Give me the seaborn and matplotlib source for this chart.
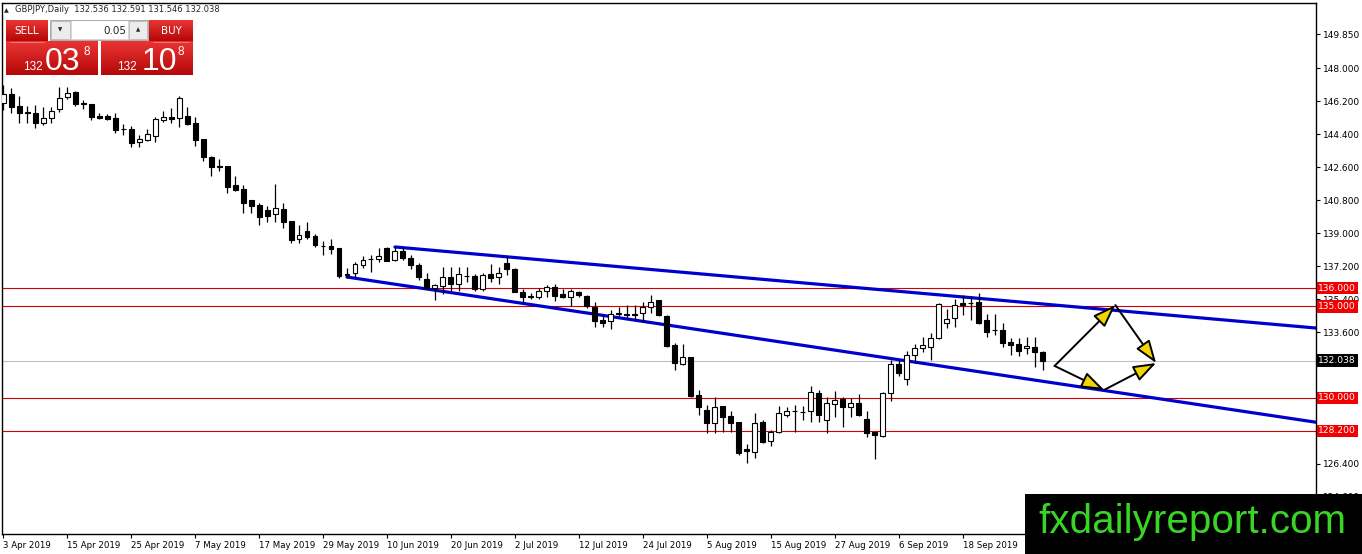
import matplotlib
matplotlib.use("Agg")
import matplotlib.pyplot as plt
import numpy as np
import pandas as pd
import seaborn as sns
from matplotlib.colors import LinearSegmentedColormap
from matplotlib.patches import Rectangle
from matplotlib import font_manager

# GBPJPY daily candles (bar 0 = 3 Apr 2019)
opens = [146.1, 146.6, 145.93, 145.6, 145.55, 145.0, 145.28, 145.77, 146.42, 146.7,
         146.1, 146.04, 145.38, 145.38, 145.28, 144.68, 144.68, 143.97, 144.08, 144.29,
         145.17, 145.33, 145.28, 145.38, 145.0, 144.13, 143.15, 142.63, 142.66, 141.62,
         141.4, 140.8, 140.53, 140.26, 140.04, 140.31, 139.66, 138.67, 139.11, 138.84,
         138.29, 138.29, 138.18, 136.71, 136.82, 137.26, 137.56, 137.58, 138.18, 137.53,
         138.02, 137.64, 137.26, 136.5, 136.0, 136.11, 136.6, 136.22, 136.66, 136.66,
         135.95, 136.77, 136.6, 137.37, 137.04, 135.78, 135.55, 135.51, 135.84, 136.06,
         135.67, 135.51, 135.78, 135.57, 134.96, 134.26, 134.2, 134.64, 134.58, 134.58,
         134.64, 134.96, 135.35, 134.47, 132.89, 131.85, 132.24, 130.16, 129.35, 128.64,
         129.56, 129.02, 128.69, 127.22, 127.05, 128.69, 127.66, 128.15, 129.07, 129.29,
         129.24, 129.29, 130.27, 128.8, 129.67, 129.95, 129.51, 129.73, 128.85, 128.15,
         127.93, 130.27, 131.85, 131.04, 132.35, 132.73, 132.78, 133.27, 134.09, 134.36,
         135.18, 135.18, 135.24, 134.26, 133.71, 133.71, 133.06, 132.95, 132.73, 132.78,
         132.536]
highs = [147.1, 146.9, 146.48, 145.93, 145.98, 145.87, 145.87, 146.97, 146.97, 146.75,
         146.26, 146.04, 145.55, 145.5, 145.55, 144.95, 144.84, 144.35, 144.68, 145.33,
         145.66, 145.82, 146.48, 145.87, 145.33, 144.13, 143.2, 143.04, 142.66, 142.11,
         141.62, 140.8, 140.64, 140.48, 141.67, 140.64, 139.66, 139.44, 139.6, 138.95,
         138.57, 138.68, 138.18, 137.09, 137.42, 137.75, 137.8, 138.18, 138.24, 138.24,
         138.24, 137.8, 137.37, 136.82, 136.22, 137.15, 137.15, 137.15, 137.15, 136.77,
         136.82, 137.31, 137.15, 137.75, 137.09, 135.95, 135.73, 136.0, 136.16, 136.22,
         135.95, 135.95, 135.84, 135.62, 135.24, 134.58, 134.8, 134.96, 135.07, 135.07,
         135.24, 135.62, 135.35, 134.53, 133.0, 132.95, 132.24, 130.44, 129.62, 130.05,
         129.56, 129.29, 128.69, 127.49, 129.18, 128.8, 128.25, 129.56, 129.51, 129.62,
         129.56, 130.65, 130.44, 130.05, 130.38, 130.05, 130.0, 130.22, 129.29, 128.15,
         130.33, 132.07, 132.07, 132.56, 132.95, 133.33, 133.55, 135.18, 134.86, 135.4,
         135.62, 135.57, 135.73, 134.58, 134.58, 134.09, 133.27, 133.27, 133.33, 133.33,
         132.591]
lows = [145.7, 145.55, 145.0, 145.0, 144.73, 144.9, 145.0, 145.6, 146.31, 145.93,
        145.77, 145.17, 145.22, 145.17, 144.46, 144.35, 143.69, 143.69, 144.02, 143.97,
        145.06, 145.0, 144.79, 144.9, 143.75, 142.93, 142.11, 142.38, 141.18, 141.3,
        140.09, 140.09, 139.44, 139.6, 139.6, 139.27, 138.46, 138.46, 138.67, 138.24,
        137.8, 137.86, 136.55, 136.55, 136.6, 137.09, 136.87, 137.42, 137.47, 137.47,
        137.53, 137.04, 136.44, 135.95, 135.35, 135.67, 135.84, 135.84, 136.33, 135.84,
        135.84, 136.33, 136.22, 136.71, 135.78, 135.18, 135.4, 135.4, 135.51, 135.29,
        135.45, 135.02, 135.51, 134.91, 133.87, 133.87, 133.76, 134.47, 134.36, 134.26,
        134.15, 134.64, 134.47, 132.78, 131.53, 131.8, 130.05, 129.07, 128.09, 128.09,
        128.15, 128.15, 126.89, 126.45, 126.73, 127.55, 127.38, 128.09, 128.96, 128.15,
        128.8, 128.69, 128.69, 128.09, 128.96, 128.42, 128.96, 129.02, 127.87, 126.67,
        127.87, 129.84, 131.2, 130.71, 131.91, 132.51, 132.07, 133.22, 133.82, 133.87,
        134.53, 134.26, 134.04, 133.33, 133.44, 132.78, 132.35, 132.29, 132.4, 131.69,
        131.546]
closes = [146.6, 145.9, 145.55, 145.55, 145.0, 145.28, 145.66, 146.37, 146.64, 146.04,
          146.04, 145.33, 145.28, 145.22, 144.62, 144.65, 143.91, 144.13, 144.4, 145.22,
          145.33, 145.22, 146.37, 144.95, 144.08, 143.15, 142.6, 142.6, 141.51, 141.35,
          140.64, 140.48, 139.87, 139.93, 140.37, 139.6, 138.62, 138.89, 138.78, 138.35,
          138.27, 138.13, 136.66, 136.77, 137.31, 137.53, 137.58, 137.75, 137.47, 138.02,
          137.64, 137.26, 136.6, 136.0, 136.16, 136.6, 136.22, 136.77, 136.68, 135.95,
          136.71, 136.55, 136.82, 137.04, 135.78, 135.51, 135.51, 135.84, 136.06, 135.57,
          135.51, 135.84, 135.62, 135.02, 134.2, 134.09, 134.58, 134.58, 134.53, 134.53,
          134.96, 135.24, 134.53, 132.84, 131.91, 132.24, 130.11, 129.51, 128.64, 129.51,
          128.96, 128.64, 127.0, 127.11, 128.64, 127.6, 128.15, 129.18, 129.29, 129.31,
          129.26, 130.33, 129.07, 129.73, 129.89, 129.51, 129.73, 129.07, 128.09, 127.98,
          130.27, 131.85, 131.36, 132.35, 132.73, 132.89, 133.27, 135.13, 134.31, 135.07,
          135.07, 135.2, 134.09, 133.6, 133.69, 133.0, 132.89, 132.56, 132.84, 132.51,
          132.038]

tick_labels = ["3 Apr 2019", "15 Apr 2019", "25 Apr 2019", "7 May 2019", "17 May 2019",
               "29 May 2019", "10 Jun 2019", "20 Jun 2019", "2 Jul 2019", "12 Jul 2019",
               "24 Jul 2019", "5 Aug 2019", "15 Aug 2019", "27 Aug 2019", "6 Sep 2019",
               "18 Sep 2019"]
price_ticks = [149.85, 148.0, 146.2, 144.4, 142.6, 140.8, 139.0, 137.2, 135.4, 133.6,
               131.8, 130.0, 128.2, 126.4, 124.6]
levels = [136.0, 135.0, 130.0, 128.2]
bid = 132.038

# trend channel anchors (bar index, price)
upper_chan = [(49, 138.24), (130, 135.13)]
lower_chan = [(43, 136.6), (137.7, 130.41)]

# projected path drawn with arrows
arrow_pts = {"A": (131.5, 131.75), "B": (137.7, 130.44),
             "C": (139.1, 135.07), "D": (144.2, 131.91)}
arrow_legs = [("A", "C"), ("C", "D"), ("A", "B"), ("B", "D")]

sns.set_style("white")
plt.rcParams["font.family"] = ["DejaVu Sans"]

W, H = 1362, 554
fig = plt.figure(figsize=(W / 100, H / 100), dpi=100)
ax = fig.add_axes([2 / W, 20 / H, 1314 / W, 531 / H])

x_max = 164.2
n = len(closes)
df = pd.DataFrame({"open": opens, "high": highs, "low": lows, "close": closes})
df["bar"] = np.arange(n)
df["date"] = pd.bdate_range("2019-04-03", periods=n)
bull = df["close"] >= df["open"]

# reference lines
for lv in levels:
    ax.axhline(lv, color="#d40000", lw=0.8, zorder=1)
ax.axhline(bid, color="#c0c0c0", lw=0.8, zorder=1)

# candles
ax.vlines(df["bar"], df["low"], df["high"], color="black", lw=0.9, zorder=3)
body = (df["close"] - df["open"]).abs().clip(lower=0.015)
ax.bar(df["bar"], body, bottom=df[["open", "close"]].min(axis=1), width=0.62,
       color=np.where(bull, "white", "black"), edgecolor="black", lw=0.8, zorder=4)

# channel rays extended to the right edge
for anchors in (upper_chan, lower_chan):
    (x0, y0), (x1, y1) = anchors
    slope = (y1 - y0) / (x1 - x0)
    ray = pd.DataFrame({"bar": [x0, x_max], "price": [y0, y0 + slope * (x_max - x0)]})
    sns.lineplot(data=ray, x="bar", y="price", ax=ax, color="#0000cc", lw=2.3,
                 zorder=2, legend=False)

for a, b in arrow_legs:
    ax.annotate("", xy=arrow_pts[b], xytext=arrow_pts[a],
                arrowprops=dict(arrowstyle="-|>,head_length=1.4,head_width=0.5",
                                fc="#f2d400", ec="black", lw=1.4,
                                shrinkA=0, shrinkB=0), zorder=6)

ax.set_xlim(-0.15, x_max)
ax.set_ylim(122.58, 151.55)
ax.set_xlabel("")
ax.set_ylabel("")

# axes cosmetics
for sp in ax.spines.values():
    sp.set_visible(True)
    sp.set_color("black")
    sp.set_linewidth(1.0)
ax.yaxis.tick_right()
ax.set_yticks(price_ticks)
# labels sitting under a price tag are covered in the terminal, so leave them blank
covered = [lv for lv in levels] + [bid]
ax.set_yticklabels(["" if min(abs(t - c) for c in covered) < 0.3 else f"{t:.3f}"
                    for t in price_ticks])
ax.tick_params(axis="y", right=True, direction="out", length=3, width=0.8, pad=2,
               labelsize=6.5, colors="black")

labs = df["date"].apply(lambda d: f"{d.day} {d:%b %Y}")
tick_pos = df.loc[labs.isin(tick_labels), "bar"]
ax.set_xticks(tick_pos)
ax.set_xticklabels(labs[labs.isin(tick_labels)])
ax.tick_params(axis="x", bottom=True, direction="out", length=3, width=0.8, pad=2,
               labelsize=6.2, colors="black")
for t in ax.get_xticklabels():
    t.set_ha("left")

# price tags on the axis
ytr = ax.get_yaxis_transform()
for lv in levels:
    ax.text(1.0018, lv, f"{lv:.3f}", transform=ytr, ha="left", va="center",
            fontsize=6.6, color="white", zorder=8, clip_on=False,
            bbox=dict(boxstyle="square,pad=0.18", fc="#f00000", ec="none"))
ax.text(1.0018, bid, f"{bid:.3f}", transform=ytr, ha="left", va="center",
        fontsize=6.6, color="white", zorder=8, clip_on=False,
        bbox=dict(boxstyle="square,pad=0.18", fc="black", ec="none"))

# overlay in pixel coordinates for the trade panel and watermark
ov = fig.add_axes([0, 0, 1, 1], zorder=10)
ov.set_xlim(0, W)
ov.set_ylim(H, 0)
ov.axis("off")

red = LinearSegmentedColormap.from_list("btn", ["#ea3434", "#b40808"])
grad = np.linspace(0, 1, 32).reshape(-1, 1)


def red_box(x0, y0, x1, y1):
    ov.imshow(grad, extent=(x0, x1, y1, y0), origin="upper", cmap=red,
              aspect="auto", zorder=1)


red_box(6, 20, 48, 41)
red_box(149, 20, 193, 41)
red_box(6, 41, 98, 75)
red_box(101, 41, 193, 75)
ov.plot([10, 44], [41.5, 41.5], color="#f08080", lw=0.6, zorder=2)
ov.plot([153, 189], [41.5, 41.5], color="#f08080", lw=0.6, zorder=2)
ov.add_patch(Rectangle((50, 20), 98, 20, fc="#d8d8d8", ec="#a0a0a0", lw=0.6, zorder=1))
ov.add_patch(Rectangle((51, 21), 19, 18, fc="#ececec", ec="#b0b0b0", lw=0.5, zorder=2))
ov.add_patch(Rectangle((72, 21), 56, 18, fc="white", ec="none", zorder=2))
ov.add_patch(Rectangle((129, 21), 18, 18, fc="#ececec", ec="#b0b0b0", lw=0.5, zorder=2))
ov.text(60.5, 30, "▼", fontsize=4, ha="center", va="center", zorder=3)
ov.text(138, 30, "▲", fontsize=4, ha="center", va="center", zorder=3)
ov.text(126, 30.5, "0.05", fontsize=7.5, ha="right", va="center", zorder=3)
ov.text(27, 31, "SELL", fontsize=7.5, color="white", ha="center", va="center", zorder=3)
ov.text(171, 31, "BUY", fontsize=7.5, color="white", ha="center", va="center", zorder=3)
big = dict(family=["Liberation Sans", "DejaVu Sans"], color="white", zorder=3)
for x_small, x_big, x_sup, digits in ((33, 63, 87, "03"), (127, 159, 181, "10")):
    ov.text(x_small, 70, "132", fontsize=8.5, ha="center", va="baseline", **big)
    ov.text(x_big, 70, digits, fontsize=23, ha="center", va="baseline", **big)
    ov.text(x_sup, 55, "8", fontsize=8.5, ha="center", va="baseline", **big)

ov.text(4, 10.5, "▲", fontsize=4.5, ha="left", va="center")
ov.text(15, 10, "GBPJPY,Daily  132.536 132.591 131.546 132.038", fontsize=6,
        ha="left", va="center")

# watermark
ov.add_patch(Rectangle((1025, 494), 337, 60, fc="black", ec="none", zorder=5))
names = {f.name for f in font_manager.fontManager.ttflist}
wm_font = "Liberation Sans Narrow" if "Liberation Sans Narrow" in names else "Liberation Sans"
wm = ov.text(1192, 522, "fxdailyreport.com", fontsize=34, family=wm_font,
             color="#3ad426", ha="center", va="center", zorder=6)
fig.canvas.draw()
width = wm.get_window_extent().width
wm.set_fontsize(34 * min(1.0, 308 / width))

fig.savefig("out.png", dpi=100)
